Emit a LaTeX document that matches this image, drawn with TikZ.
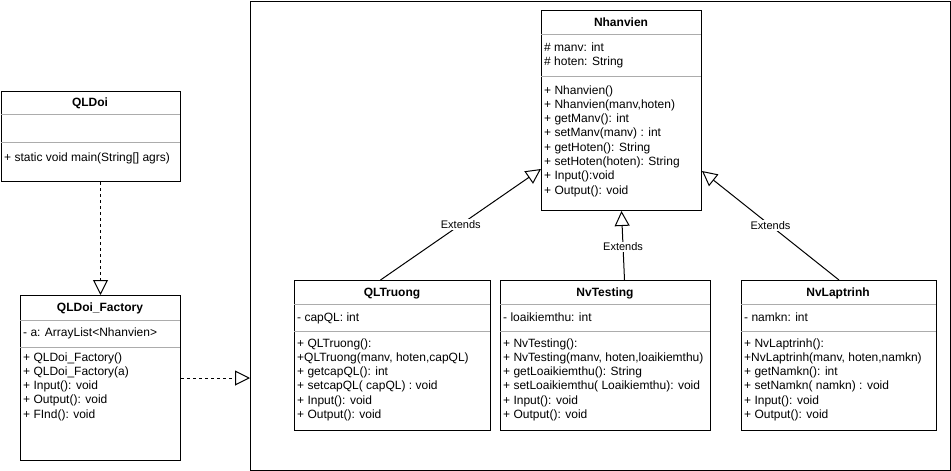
\documentclass[tikz,border=0pt]{standalone}
\usepackage{fontspec}
\setmainfont{Liberation Sans}
\usetikzlibrary{arrows.meta,calc}
\newcommand\umllines[4]{%
  \foreach \t [count=\i] in {#4} \node[txt] (#1\i) at (#2,{#3+14.3*(\i-1)}) {\t};}
\begin{document}
\begin{tikzpicture}[x=1pt,y=-1pt,
  every node/.style={font=\fontsize{12}{14}\selectfont},
  box/.style={draw, line width=1pt, anchor=north west, inner sep=0pt},
  sep/.style={draw=gray!65, line width=1pt},
  ttl/.style={font=\fontsize{12}{14}\selectfont\bfseries, anchor=base, inner sep=0pt},
  txt/.style={anchor=base west, inner sep=0pt},
  ext/.style={line width=1pt, -{Triangle[open,length=15pt,width=15pt]}},
  dep/.style={line width=1pt, dash pattern=on 3pt off 3pt, -{Triangle[open,length=15pt,width=15pt]}},
  lbl/.style={fill=white, inner sep=1pt, font=\fontsize{11}{13}\selectfont}]
\useasboundingbox (0,0) rectangle (951,471);
% frame
\node[box, minimum width=700pt, minimum height=469pt] (frame) at (250,1) {};
% QLDoi
\node[box, minimum width=179pt, minimum height=90pt] (qd) at (1,91) {};
\node[ttl] (qdT) at (90,106) {QLDoi};
\draw[sep] (1,114) -- (180,114);
\draw[sep] (1,142) -- (180,142);
\umllines{qdm}{4}{161}{{+ static void main(String[] agrs)}}
% QLDoi_Factory
\node[box, minimum width=160pt, minimum height=165pt] (fac) at (20,295) {};
\node[ttl] (facT) at (100,311) {QLDoi\_Factory};
\draw[sep] (20,320) -- (180,320);
\draw[sep] (20,347) -- (180,347);
\umllines{faca}{23}{336}{{- a: ArrayList<Nhanvien>}}
\umllines{facm}{23}{361}{{+ QLDoi\_Factory()},{+ QLDoi\_Factory(a)},{+ Input(): void},{+ Output(): void},{+ FInd(): void}}
% Nhanvien
\node[box, minimum width=160pt, minimum height=200pt] (nv) at (541,10) {};
\node[ttl] (nvT) at (621,26) {Nhanvien};
\draw[sep] (541,34) -- (701,34);
\draw[sep] (541,76) -- (701,76);
\umllines{nva}{544}{51}{{\# manv: int},{\# hoten: String}}
\umllines{nvm}{544}{94}{{+ Nhanvien()},{+ Nhanvien(manv,hoten)},{+ getManv(): int},{+ setManv(manv) : int},{+ getHoten(): String},{+ setHoten(hoten): String},{+ Input():void},{+ Output(): void}}
% QLTruong
\node[box, minimum width=196pt, minimum height=150pt] (qlt) at (294,280) {};
\node[ttl] (qltT) at (392,296) {QLTruong};
\draw[sep] (294,304) -- (490,304);
\draw[sep] (294,331) -- (490,331);
\umllines{qlta}{297}{321}{{- capQL: int}}
\umllines{qltm}{297}{347}{{+ QLTruong():},{+QLTruong(manv, hoten,capQL)},{+ getcapQL(): int},{+ setcapQL( capQL) : void},{+ Input(): void},{+ Output(): void}}
% NvTesting
\node[box, minimum width=210pt, minimum height=150pt] (nvt) at (500,280) {};
\node[ttl] (nvtT) at (605,296) {NvTesting};
\draw[sep] (500,304) -- (710,304);
\draw[sep] (500,331) -- (710,331);
\umllines{nvta}{503}{321}{{- loaikiemthu: int}}
\umllines{nvtm}{503}{347}{{+ NvTesting():},{+ NvTesting(manv, hoten,loaikiemthu)},{+ getLoaikiemthu(): String},{+ setLoaikiemthu( Loaikiemthu): void},{+ Input(): void},{+ Output(): void}}
% NvLaptrinh
\node[box, minimum width=195pt, minimum height=150pt] (nvl) at (741,280) {};
\node[ttl] (nvlT) at (838,296) {NvLaptrinh};
\draw[sep] (741,304) -- (936,304);
\draw[sep] (741,331) -- (936,331);
\umllines{nvla}{744}{321}{{- namkn: int}}
\umllines{nvlm}{744}{347}{{+ NvLaptrinh():},{+NvLaptrinh(manv, hoten,namkn)},{+ getNamkn(): int},{+ setNamkn( namkn) : void},{+ Input(): void},{+ Output(): void}}
% connectors
\draw[dep] (fac.north |- qd.south) -- (fac.north);
\draw[dep] (fac.east) -- (frame.west |- fac.east);
\draw[ext] ([xshift=-12pt]qlt.north) -- node[lbl, pos=0.5] (e1) {Extends} ([yshift=42pt]nv.south west);
\draw[ext] ([xshift=19pt]nvt.north) -- node[lbl, pos=0.48] (e2) {Extends} (nv.south);
\draw[ext] (nvl.north) -- node[lbl, pos=0.5] (e3) {Extends} ([yshift=40pt]nv.south east);
\end{tikzpicture}
\end{document}
